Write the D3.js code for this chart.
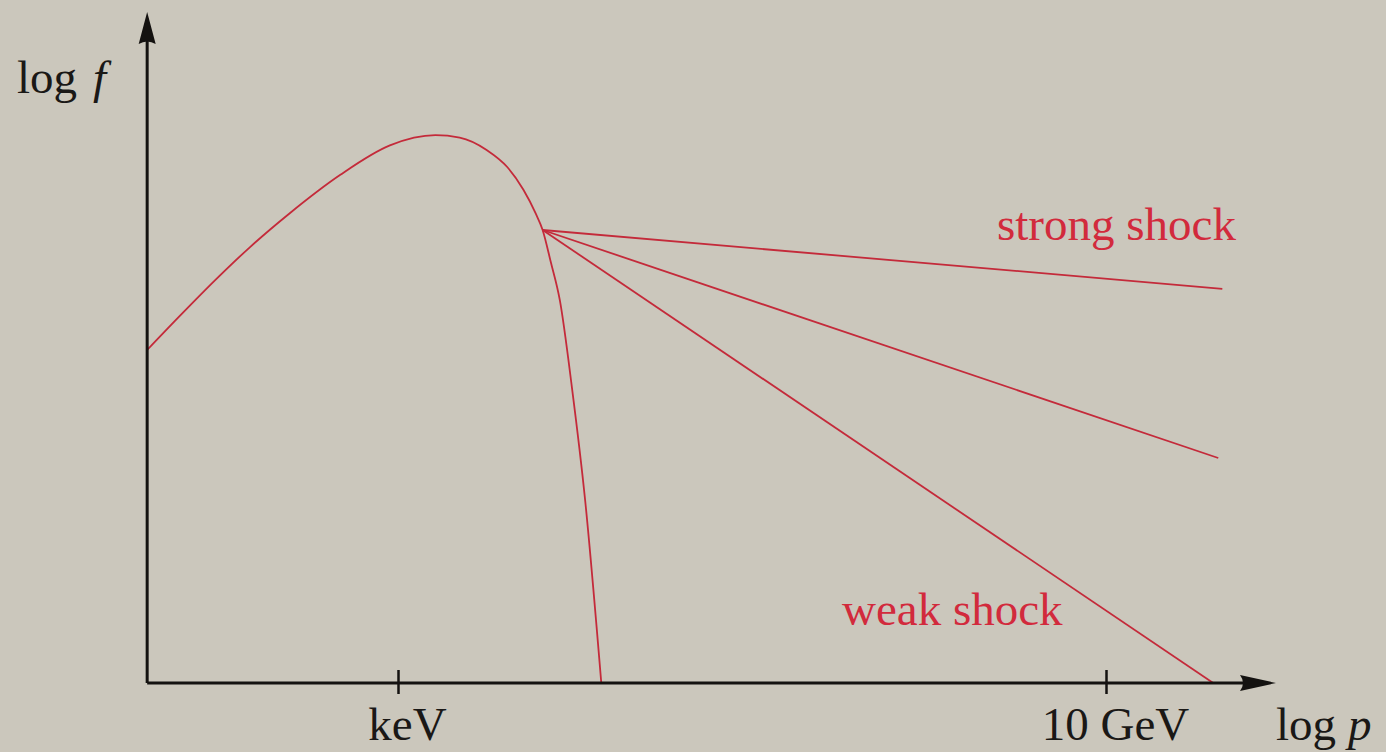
<!DOCTYPE html>
<html>
<head>
<meta charset="utf-8">
<script src="https://cdn.jsdelivr.net/npm/d3@7"></script>
<style>
  html, body { margin: 0; padding: 0; background: #cbc7bc; }
  svg { display: block; }
  text { font-family: "Liberation Serif", "DejaVu Serif", serif; }
</style>
</head>
<body>
<svg id="chart" width="1386" height="752"></svg>
<script>
// Momentum axis in log10(energy / eV): keV = 3, 10 GeV = 10
const tickValues = [3, 10];
const tickLabels = ["keV", "10 GeV"];

// Thermal (Maxwellian) part of the spectrum: log p, log f
const thermalLogP = [0.52, 0.85, 1.19, 1.54, 1.93, 2.43, 2.92, 3.37, 3.61, 3.88, 4.08, 4.24, 4.36, 4.43, 4.51, 4.60, 4.72, 4.85, 5.01];
const thermalLogF = [5.55, 6.13, 6.71, 7.27, 7.83, 8.47, 8.96, 9.13, 9.09, 8.88, 8.60, 8.22, 7.83, 7.55, 7.02, 6.38, 4.92, 3.05, 0.00];

// Non-thermal power-law tails starting at the injection point
const injection = [4.43, 7.55];
const tailNames = ["strong", "intermediate", "weak"];
const tailEndLogP = [11.15, 11.11, 11.06];
const tailEndLogF = [6.57, 3.75, 0.00];

const svg = d3.select("#chart");
const lineColor = "#c42a3a";
const labelColor = "#d22a3c";

const x = d3.scaleLinear().domain([3, 10]).range([398, 1106]);
const y = d3.scaleLinear().domain([0, 10]).range([683, 83]);

const originX = x(0.52);
const originY = y(0);

// Curves
const line = d3.line().x(d => x(d[0])).y(d => y(d[1]));

const thermal = thermalLogP.map((p, i) => [p, thermalLogF[i]]);
svg.append("path")
  .attr("d", d3.line().x(d => x(d[0])).y(d => y(d[1])).curve(d3.curveMonotoneX)(thermal))
  .attr("fill", "none")
  .attr("stroke", lineColor)
  .attr("stroke-width", 1.8);

tailNames.forEach((name, i) => {
  svg.append("path")
    .attr("class", "tail " + name)
    .attr("d", line([injection, [tailEndLogP[i], tailEndLogF[i]]]))
    .attr("fill", "none")
    .attr("stroke", lineColor)
    .attr("stroke-width", 1.8);
});

// Axes
const axisColor = "#141210";
svg.append("line")
  .attr("x1", originX).attr("y1", originY)
  .attr("x2", 1250).attr("y2", originY)
  .attr("stroke", axisColor).attr("stroke-width", 3);
svg.append("line")
  .attr("x1", originX).attr("y1", originY)
  .attr("x2", originX).attr("y2", 36)
  .attr("stroke", axisColor).attr("stroke-width", 3);

// Arrowheads
svg.append("path")
  .attr("d", `M${originX},12 L${originX + 8.5},44 Q${originX},39 ${originX - 8.5},44 Z`)
  .attr("fill", axisColor);
svg.append("path")
  .attr("d", `M1276,${originY} L1240,${originY - 8} Q1246,${originY} 1240,${originY + 8} Z`)
  .attr("fill", axisColor);

// Ticks and their labels
const xAxis = d3.axisBottom(x).tickValues(tickValues).tickSize(0).tickFormat((d, i) => tickLabels[i]);
const axisG = svg.append("g").attr("transform", `translate(0,${originY})`).call(xAxis);
axisG.select(".domain").remove();
axisG.selectAll(".tick line").remove();
axisG.selectAll(".tick").append("line")
  .attr("y1", -13).attr("y2", 11)
  .attr("stroke", axisColor).attr("stroke-width", 2.5);
axisG.selectAll(".tick text")
  .attr("x", 9).attr("y", 57).attr("dy", null)
  .attr("fill", "#1a1816")
  .style("font-size", "47px")
  .style("font-family", "'Liberation Serif', serif");

// Axis titles
const fTitle = svg.append("text").attr("x", 17).attr("y", 93)
  .attr("fill", "#1a1816").style("font-size", "47px");
fTitle.append("tspan").text("log");
fTitle.append("tspan").attr("dx", 16).style("font-style", "italic").text("f");

const pTitle = svg.append("text").attr("x", 1276).attr("y", 740)
  .attr("fill", "#1a1816").style("font-size", "47px");
pTitle.append("tspan").text("log");
pTitle.append("tspan").attr("dx", 12).style("font-style", "italic").text("p");

// Curve labels
svg.append("text").attr("x", 997).attr("y", 240)
  .attr("fill", labelColor).style("font-size", "47px").text("strong shock");
svg.append("text").attr("x", 842).attr("y", 625)
  .attr("fill", labelColor).style("font-size", "47px").text("weak shock");
</script>
</body>
</html>
